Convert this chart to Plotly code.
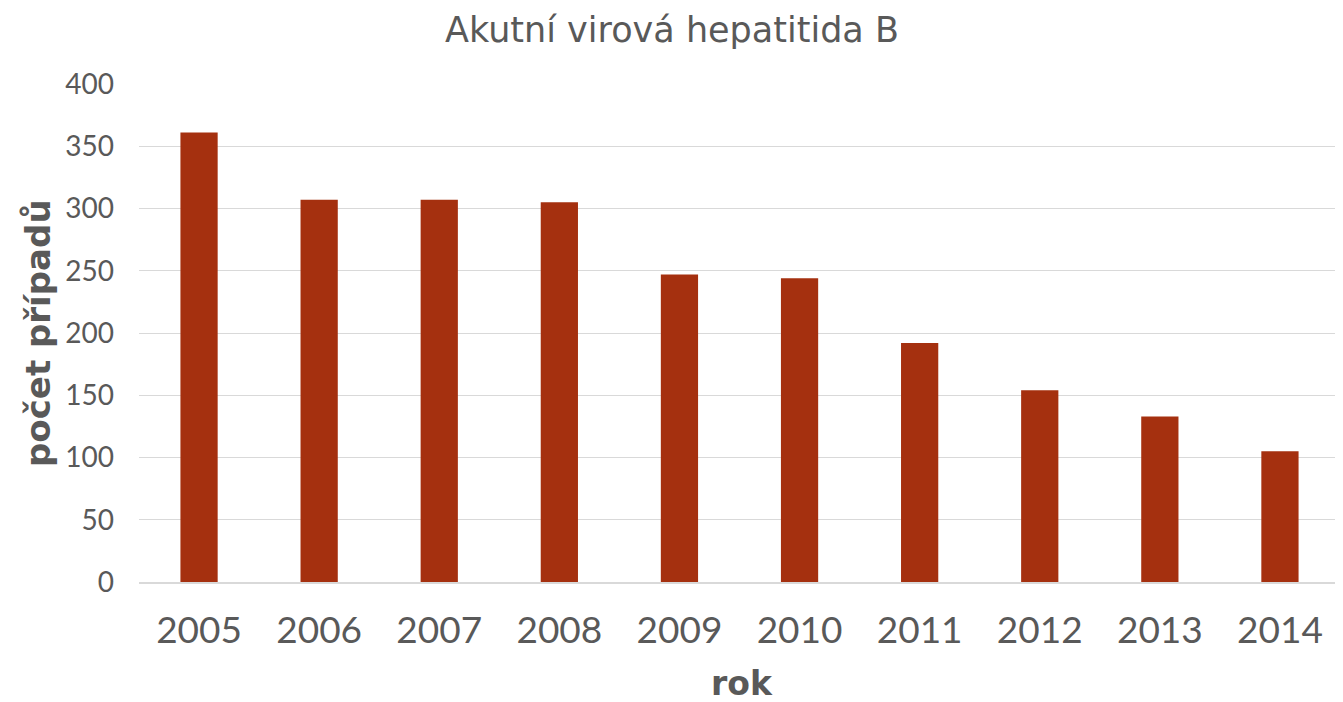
import plotly.graph_objects as go

years = ["2005", "2006", "2007", "2008", "2009", "2010", "2011", "2012", "2013", "2014"]
cases = [361, 307, 307, 305, 247, 244, 192, 154, 133, 105]
y_ticks = [0, 50, 100, 150, 200, 250, 300, 350, 400]

NUMFONT = "Lato, 'DejaVu Sans', sans-serif"
TXTFONT = "'DejaVu Sans', sans-serif"
GRAY = "#595959"

W, H = 1335, 694
L, R, T, B = 131, 3, 76, 120
PW, PH = W - L - R, H - T - B

fig = go.Figure(go.Bar(x=years, y=cases, marker_color="#A5300F", marker_line_width=0))

fig.update_layout(
    width=W, height=H,
    margin=dict(l=L, r=R, t=T, b=B),
    plot_bgcolor="white", paper_bgcolor="white",
    bargap=0.69,
    showlegend=False,
    font=dict(family=NUMFONT, color=GRAY),
    title=dict(text="Akutní virová hepatitida B", xref="container", x=664 / W, xanchor="center",
               yref="container", y=1 - 22 / H, yanchor="middle",
               font=dict(size=35, color=GRAY, family=TXTFONT)),
)
fig.update_xaxes(
    type="category", showgrid=False, showline=True, linecolor="#D9D9D9", linewidth=1.5,
    tickfont=dict(size=37, color=GRAY), ticks="", ticklabelstandoff=15,
)
fig.update_yaxes(
    range=[0, 400], tickvals=y_ticks, showgrid=True, gridcolor="#D9D9D9", gridwidth=1.2,
    zeroline=False, showline=False, tickfont=dict(size=28, color=GRAY),
    ticks="", ticklabelstandoff=24,
)
fig.add_annotation(text="<b>počet případů</b>", xref="paper", yref="paper",
                   x=(30 - L) / PW, y=0.5, textangle=-90, showarrow=False,
                   xanchor="center", yanchor="middle",
                   font=dict(size=34, color=GRAY, family=TXTFONT))
fig.add_annotation(text="<b>rok</b>", xref="paper", yref="paper",
                   x=(734 - L) / PW, y=-(676 - (H - B)) / PH, showarrow=False,
                   xanchor="center", yanchor="middle",
                   font=dict(size=33, color=GRAY, family=TXTFONT))

fig.write_html("out.html")
